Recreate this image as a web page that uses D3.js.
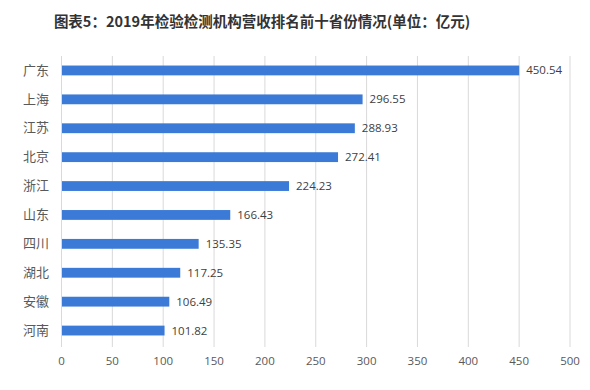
<!DOCTYPE html>
<html><head><meta charset="utf-8">
<script src="https://cdn.jsdelivr.net/npm/d3@7"></script>
<style>body{margin:0;background:#fff;}svg{display:block;}</style>
</head><body>
<svg id="chart" width="590" height="390"></svg>
<script>
const title = "图表5：2019年检验检测机构营收排名前十省份情况(单位：亿元)";
const provinces = ["广东","上海","江苏","北京","浙江","山东","四川","湖北","安徽","河南"];
const revenue = [450.54,296.55,288.93,272.41,224.23,166.43,135.35,117.25,106.49,101.82];
const xTicks = [0,50,100,150,200,250,300,350,400,450,500];

const svg = d3.select("#chart");
const W = 590, H = 390;
const m = {left:61, right:20.5, top:56, bottom:45};

const x = d3.scaleLinear().domain([0,500]).range([m.left, W - m.right]);
const y = d3.scaleBand().domain(provinces).range([m.top, H - m.bottom]).paddingInner(0.66).paddingOuter(0.33);

svg.append("text").attr("x", 262).attr("y", 27).attr("text-anchor","middle")
  .attr("font-family","'Noto Sans CJK SC'").attr("font-weight","bold").attr("font-size",14.5)
  .attr("fill","#333333").text(title);

// grid
svg.append("g").selectAll("line").data(xTicks).join("line")
  .attr("x1", d=>x(d)+0.5).attr("x2", d=>x(d)+0.5)
  .attr("y1", m.top).attr("y2", H - m.bottom + 2)
  .attr("stroke","#d9d9d9").attr("stroke-width",1);

// x axis labels
const xAxis = d3.axisBottom(x).tickValues(xTicks).tickSize(0).tickPadding(10);
const gx = svg.append("g").attr("transform",`translate(0,${H - m.bottom + 2})`).call(xAxis);
gx.select(".domain").remove();
gx.selectAll("text").attr("font-family","'Open Sans', 'Noto Sans CJK SC'").attr("font-size",11.5).attr("fill","#595959");

// y axis labels
const yAxis = d3.axisLeft(y).tickSize(0).tickPadding(12);
const gy = svg.append("g").attr("transform",`translate(${m.left},0)`).call(yAxis);
gy.select(".domain").remove();
gy.selectAll("text").attr("font-family","'Noto Sans CJK SC'").attr("font-size",13).attr("fill","#595959");

// bars
svg.append("g").selectAll("rect").data(provinces).join("rect")
  .attr("x", x(0)+1).attr("y", d=>y(d))
  .attr("width", (d,i)=>x(revenue[i]) - x(0) - 1)
  .attr("height", y.bandwidth())
  .attr("fill","#3b7bd7");

// value labels
svg.append("g").selectAll("text").data(provinces).join("text")
  .attr("x",(d,i)=>x(revenue[i]) + 7)
  .attr("y", d=>y(d)+y.bandwidth()/2)
  .attr("dy","0.35em")
  .attr("font-family","'Open Sans', 'Noto Sans CJK SC'").attr("font-size",11.5).attr("fill","#404040")
  .text((d,i)=>revenue[i].toFixed(2));
</script>
</body></html>
